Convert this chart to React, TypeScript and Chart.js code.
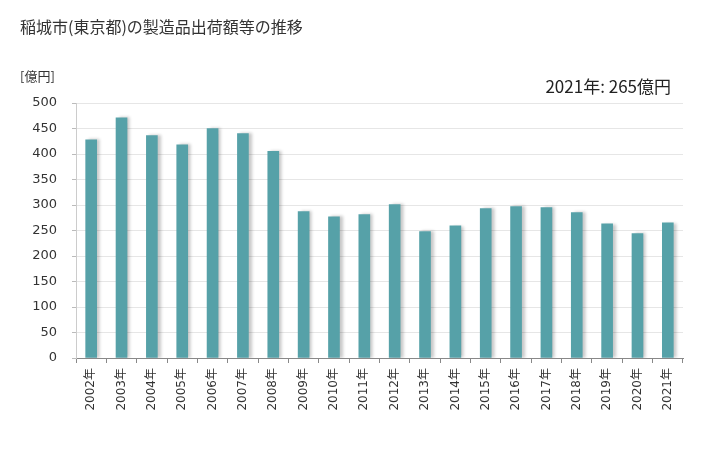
import React, { useEffect, useRef } from "react";
import { Chart, registerables } from "chart.js";

Chart.register(...registerables);

const title = "稲城市(東京都)の製造品出荷額等の推移";
const unitLabel = "[億円]";
const annotation = "2021年: 265億円";
const years = [
  "2002年", "2003年", "2004年", "2005年", "2006年", "2007年", "2008年", "2009年", "2010年", "2011年",
  "2012年", "2013年", "2014年", "2015年", "2016年", "2017年", "2018年", "2019年", "2020年", "2021年",
];
const values = [428, 471, 436, 418, 450, 440, 405, 287, 277, 281, 301, 248, 259, 293, 297, 295, 285, 263, 244, 265];

const FONT = "'Noto Sans CJK JP', 'Noto Sans', sans-serif";
const TICK_FONT = "'DejaVu Sans', 'Noto Sans CJK JP', sans-serif";

const textPlugin = {
  id: "texts",
  afterDraw(chart: any) {
    const ctx = chart.ctx;
    ctx.save();
    ctx.fillStyle = "#333";
    ctx.textBaseline = "middle";
    ctx.font = `16px ${FONT}`;
    ctx.textAlign = "left";
    ctx.fillText(title, 20, 27);
    ctx.font = `13px ${FONT}`;
    ctx.fillText(unitLabel, 20, 76);
    ctx.font = `17px ${FONT}`;
    ctx.fillStyle = "#222";
    ctx.textAlign = "right";
    ctx.fillText(annotation, 671, 87);
    ctx.restore();
  },
};

const shadowPlugin = {
  id: "barShadow",
  beforeDatasetsDraw(chart: any) {
    const ctx = chart.ctx;
    ctx.save();
    ctx.shadowColor = "rgba(0,0,0,0.22)";
    ctx.shadowOffsetX = 3;
    ctx.shadowOffsetY = 0;
    ctx.shadowBlur = 3;
  },
  afterDatasetsDraw(chart: any) {
    chart.ctx.restore();
  },
};

export default function App() {
  const ref = useRef<HTMLCanvasElement | null>(null);
  useEffect(() => {
    document.body.style.margin = "0";
    const chart = new Chart(ref.current as HTMLCanvasElement, {
      type: "bar",
      data: {
        labels: years,
        datasets: [
          {
            data: values,
            backgroundColor: "#56a1a8",
            barThickness: 11,
          },
        ],
      },
      options: {
        animation: false,
        responsive: false,
        maintainAspectRatio: false,
        layout: { padding: { top: 103, right: 45, left: 0, bottom: 0 } },
        plugins: {
          legend: { display: false },
          tooltip: { enabled: false },
          title: { display: false },
        },
        scales: {
          x: {
            afterFit(scale: any) {
              scale.height = 92;
            },
            grid: {
              offset: true,
              drawOnChartArea: false,
              drawTicks: true,
              tickLength: 5,
              color: "#888",
            },
            border: { color: "#888", width: 1 },
            ticks: {
              minRotation: 90,
              maxRotation: 90,
              autoSkip: false,
              padding: 5,
              color: "#333",
              font: { size: 12, family: TICK_FONT },
            },
          },
          y: {
            min: 0,
            max: 500,
            afterFit(scale: any) {
              scale.width = 76;
            },
            ticks: {
              stepSize: 50,
              padding: 15,
              color: "#333",
              font: { size: 13, family: TICK_FONT },
            },
            grid: {
              color: "#e6e6e6",
              tickLength: 4,
              tickColor: "#bbb",
            },
            border: { color: "#ccc", width: 1 },
          },
        },
      },
      plugins: [shadowPlugin, textPlugin],
    } as any);
    return () => chart.destroy();
  }, []);
  return (
    <div style={{ width: 728, height: 450, position: "relative" }}>
      <canvas ref={ref} width={728} height={450} style={{ display: "block" }} />
    </div>
  );
}
